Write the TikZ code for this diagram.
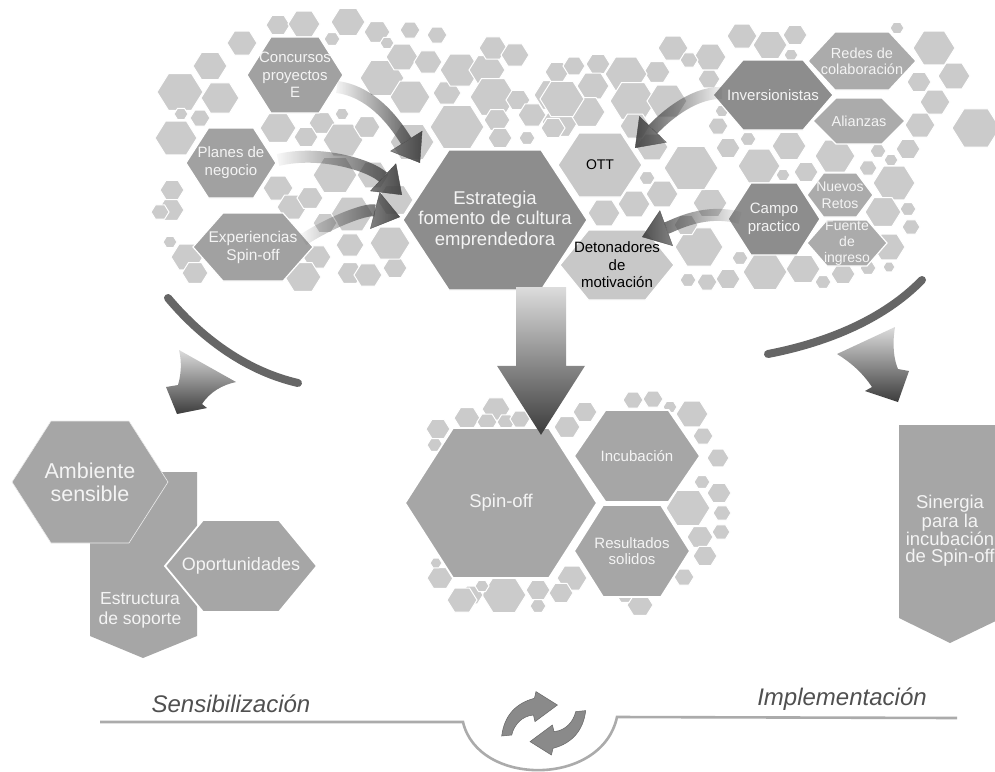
\documentclass[tikz,border=0pt]{standalone}
\usepackage{fontspec}
\setmainfont{Liberation Sans}
\usetikzlibrary{arrows.meta,fadings,calc}
\definecolor{cbg}{HTML}{CBCBCB}
\definecolor{cdark}{HTML}{8D8D8D}
\definecolor{cmid}{HTML}{A1A1A1}
\definecolor{clight}{HTML}{ABABAB}
\definecolor{cpale}{HTML}{C8C8C8}
\definecolor{cgrp}{HTML}{A6A6A6}
\definecolor{ctxt}{HTML}{F4F4F4}
\definecolor{carr}{HTML}{444444}
\definecolor{carc}{HTML}{666666}
\definecolor{cline}{HTML}{ABABAB}
\definecolor{cbtxt}{HTML}{505050}
\definecolor{cshl}{HTML}{DCDCDC}
\definecolor{cshd}{HTML}{3C3C3C}
\definecolor{cicon}{HTML}{8A8A8A}
\newcommand{\hexpath}[4]{({#1-#3},{#2}) -- ({#1-#3/2},{#2-#4}) -- ({#1+#3/2},{#2-#4}) -- ({#1+#3},{#2}) -- ({#1+#3/2},{#2+#4}) -- ({#1-#3/2},{#2+#4}) -- cycle}
\newcommand{\lhex}[8]{%
  \path[#6] \hexpath{#2}{#3}{#4}{#5};
  \node[lbl,minimum width=#4*2pt,minimum height=#5*2pt,#7] (#1) at (#2,#3) {#8};}
\tikzset{
  bgh/.style={fill=cbg, draw=white, line width=1pt},
  hdark/.style={fill=cdark, draw=white, line width=1.2pt},
  hmid/.style={fill=cmid, draw=white, line width=1.2pt},
  hlight/.style={fill=clight, draw=white, line width=1.2pt},
  hpale/.style={fill=cpale, draw=white, line width=1.2pt},
  hgrp/.style={fill=cgrp, draw=white, line width=1.8pt},
  lbl/.style={inner sep=0pt, align=center, text=ctxt, font=\fontsize{14.5}{17}\selectfont},
  flowarrow/.style={draw=carr, line width=12pt, -{Triangle[length=26pt,width=38pt,fill=carr,line width=0.4pt]}, fit fading=true},
  arcline/.style={draw=carc, line width=8pt, line cap=round},
  sidearrow/.style={top color=cshl, bottom color=cshd},
  bline/.style={draw=cline, line width=2.6pt},
  btext/.style={text=cbtxt, font=\fontsize{24}{28}\selectfont\itshape, inner sep=0pt, anchor=base},
  iconarrow/.style={fill=cicon, draw=gray!80!black, line width=0.5pt}
}
\begin{document}
\begin{tikzpicture}[x=1pt,y=-1pt]
\useasboundingbox (0,0) rectangle (995,771);
\fill[white] (0,0) rectangle (995,771);
% background hexagons
\foreach \x/\y/\r in {278/25/12, 304/24/16, 348/22/17, 377/32/13, 410/30/10, 437/35/10, 332/39/8, 387/43/7, 242/43/15, 210/66/17, 180/92/23, 220/98/19, 181/114/7, 176/138/21, 200/118/10, 172/190/12, 171/210/13, 160/212/9, 170/242/7, 187/257/16, 195/273/13, 278/128/18, 278/188/15, 292/207/15, 310/198/13, 322/123/13, 342/114/7, 343/140/20, 367/127/13, 306/137/12, 335/175/22, 352/214/21, 325/223/12, 350/245/14, 317/257/14, 350/273/13, 368/275/14, 395/268/12, 390/243/20, 373/175/16, 382/78/22, 410/97/20, 402/57/16, 428/62/14, 457/127/27, 412/142/22, 447/93/14, 460/70/20, 487/70/18, 493/48/14, 515/55/14, 493/97/23, 497/120/13, 518/100/12, 532/115/14, 552/95/18, 557/72/12, 574/66/11, 560/122/18, 500/138/12, 527/138/8, 303/277/18, 395/200/18,
742/36/15, 770/45/17, 795/35/12, 791/55/7, 897/28/7, 934/48/21, 954/76/16, 919/82/12, 935/102/15, 920/125/15, 908/149/12, 878/151/8, 891/160/7, 835/156/20, 868/168/9, 894/183/21, 908/209/8, 883/212/18, 911/227/9, 889/247/16, 889/267/6, 868/268/8, 843/274/12, 823/282/8, 803/269/17, 765/272/22, 728/279/12, 707/282/10, 688/280/8, 740/258/8, 699/247/24, 686/225/12, 710/203/17, 691/168/27, 647/178/8, 634/204/16, 604/213/16, 662/194/16, 652/147/16, 728/148/12, 759/166/21, 748/139/8, 789/146/17, 806/172/12, 783/175/7, 722/111/7, 718/126/10, 709/79/11, 710/57/16, 673/48/15, 689/60/9, 657/72/13, 626/74/21, 598/64/12, 593/86/16, 633/101/23, 667/101/20, 587/112/18, 562/99/22, 553/128/12, 635/126/15, 976/128/24,
438/429/12, 435/445/8, 467/418/13, 496/409/14, 487/422/10, 506/422/9, 520/419/10, 535/407/8, 567/427/13, 585/412/12, 633/400/10, 653/399/10, 670/407/7, 692/414/16, 703/436/10, 718/458/11, 702/482/8, 719/493/12, 688/508/22, 722/513/9, 721/532/9, 700/537/13, 705/556/12, 684/577/10, 640/605/13, 625/596/8, 572/578/15, 561/593/12, 538/590/12, 538/606/8, 504/595/22, 472/595/11, 482/586/7, 462/600/15, 440/578/13, 436/563/6}
{ \path[bgh] \hexpath{\x}{\y}{\r}{0.8*\r}; }
% labelled hexagons, top
\lhex{conc}{295}{75}{48}{38}{hmid}{font=\fontsize{15}{17.5}\selectfont}{Concursos\\proyectos\\E}
\lhex{plan}{231}{163}{45}{35}{hmid}{font=\fontsize{15}{18}\selectfont}{Planes de\\negocio}
\lhex{exp}{253}{247}{60}{34}{hmid}{font=\fontsize{15.5}{18}\selectfont}{Experiencias\\Spin-off}
\lhex{ott}{600}{165}{42}{32}{hpale}{text=black,font=\fontsize{14}{16}\selectfont}{OTT}
\lhex{det}{617}{265}{57}{35}{hpale}{text=black,font=\fontsize{15}{17.5}\selectfont}{Detonadores\\de\\motivación}
\lhex{estr}{495}{220}{92}{70}{hdark}{font=\fontsize{18.5}{20.5}\selectfont}{Estrategia\\fomento de cultura\\emprendedora}
\lhex{redes}{862}{61}{54}{29}{hlight}{font=\fontsize{14.5}{16}\selectfont}{Redes de\\colaboración}
\lhex{alia}{859}{121}{46}{23}{hlight}{}{Alianzas}
\lhex{inv}{773}{95}{60}{35}{hdark}{font=\fontsize{15}{17}\selectfont}{Inversionistas}
\lhex{nuevos}{840}{195}{33}{22}{hlight}{font=\fontsize{14}{16.5}\selectfont}{Nuevos\\Retos}
\lhex{fuente}{847}{243}{40}{23}{hlight}{font=\fontsize{14}{16}\selectfont}{Fuente\\de\\ingreso}
\lhex{campo}{774}{219}{46}{36}{hdark}{font=\fontsize{15}{17.5}\selectfont}{Campo\\practico}
% spin-off group
\lhex{spin}{501}{503}{96}{75}{hgrp}{font=\fontsize{18.5}{20}\selectfont}{Spin-off}
\lhex{incub}{637}{456}{63}{46}{hgrp}{font=\fontsize{15}{17}\selectfont}{Incubación}
\lhex{resul}{632}{551}{58}{46}{hgrp}{font=\fontsize{15}{15.5}\selectfont}{Resultados\\solidos}
% curved flow arrows
\draw[flowarrow, path fading=west] ($(conc)+(42,12)$) .. controls (375,92) and (398,128) .. ($(estr)+(-75,-57)$);
\draw[flowarrow, path fading=west] ($(plan)+(47,-3)$) .. controls (320,150) and (370,165) .. ($(estr)+(-93,-25)$);
\draw[flowarrow, path fading=west] ($(exp)+(50,-7)$) .. controls (325,225) and (365,208) .. ($(estr)+(-95,-3)$);
\draw[flowarrow, path fading=east] ($(inv)+(-51,-2)$) .. controls (690,92) and (660,122) .. ($(ott)+(35,-17)$);
\draw[flowarrow, path fading=east] ($(campo)+(-34,-1)$) .. controls (705,208) and (675,225) .. ($(det)+(25,-28)$);
% big down arrow
\coordinate (dtop) at ($(estr.south)+(46,-3)$);
\coordinate (dtip) at ($(spin.north)+(40,7)$);
\shade[top color=cshl, bottom color=cshd] ($(dtop)+(-25,0)$) -- ($(dtop)+(25,0)$) -- ($(dtip)+(25,-69)$) -- ($(dtip)+(44,-69)$) -- (dtip) -- ($(dtip)+(-44,-69)$) -- ($(dtip)+(-25,-69)$) -- cycle;
% side arcs and arrows
\draw[arcline] (168,298) .. controls (205,342) and (250,372) .. (298,383);
\draw[arcline] (768,354) .. controls (830,342) and (885,318) .. (922,280);
\shade[sidearrow] (179,350) .. controls (182,362) and (181,375) .. (178,385) -- (166,387) -- (177,414) -- (207,408) -- (202,404) .. controls (210,392) and (222,385) .. (236,382) -- cycle;
\shade[sidearrow] (837,354) -- (895,327) .. controls (892,345) and (894,360) .. (898,369) -- (909,371) -- (898,402) -- (865,391) -- (872,387) .. controls (862,372) and (850,362) .. (837,354) -- cycle;
% left group
\fill[cgrp] (90,472) -- (197,472) -- (197,636) -- (143,658) -- (90,636) -- cycle;
\node[lbl, font=\fontsize{17.5}{20}\selectfont] (estru) at (140,610) {Estructura\\de soporte};
\lhex{amb}{90}{482}{78}{61}{fill=cgrp, draw=white!85!gray, line width=0.6pt}{font=\fontsize{21.5}{23}\selectfont}{Ambiente\\sensible}
\lhex{opor}{241}{566}{76}{46}{hgrp}{font=\fontsize{18}{20}\selectfont}{Oportunidades}
% right block
\fill[cgrp] (899,425) -- (1002,425) -- (1002,618) -- (950,643) -- (899,618) -- cycle;
\node[lbl, font=\fontsize{18.5}{17}\selectfont] (siner) at (950,531) {Sinergia\\para la\\incubación\\de Spin-off};
% bottom line
\draw[bline] (100,722) -- (463,722) .. controls (478,787) and (602,787) .. (617,717) -- (957,718);
\node[btext] (sens) at (231,712) {Sensibilización};
\node[btext] (impl) at (842,705) {Implementación};
\begin{scope}[shift={(543.7,723.3)}]
\path[iconarrow] (-42,12.7) .. controls (-39.7,-6.7) and (-28.7,-20) .. (-9.3,-25) -- (-7.7,-31.7) -- (13.7,-18.3) -- (-8.7,-1.7) -- (-10.3,-8.3) .. controls (-22,-7.3) and (-29.7,1.7) .. (-32,11.7) -- cycle;
\begin{scope}[rotate=180]
\path[iconarrow] (-42,12.7) .. controls (-39.7,-6.7) and (-28.7,-20) .. (-9.3,-25) -- (-7.7,-31.7) -- (13.7,-18.3) -- (-8.7,-1.7) -- (-10.3,-8.3) .. controls (-22,-7.3) and (-29.7,1.7) .. (-32,11.7) -- cycle;
\end{scope}
\end{scope}
\end{tikzpicture}
\end{document}
